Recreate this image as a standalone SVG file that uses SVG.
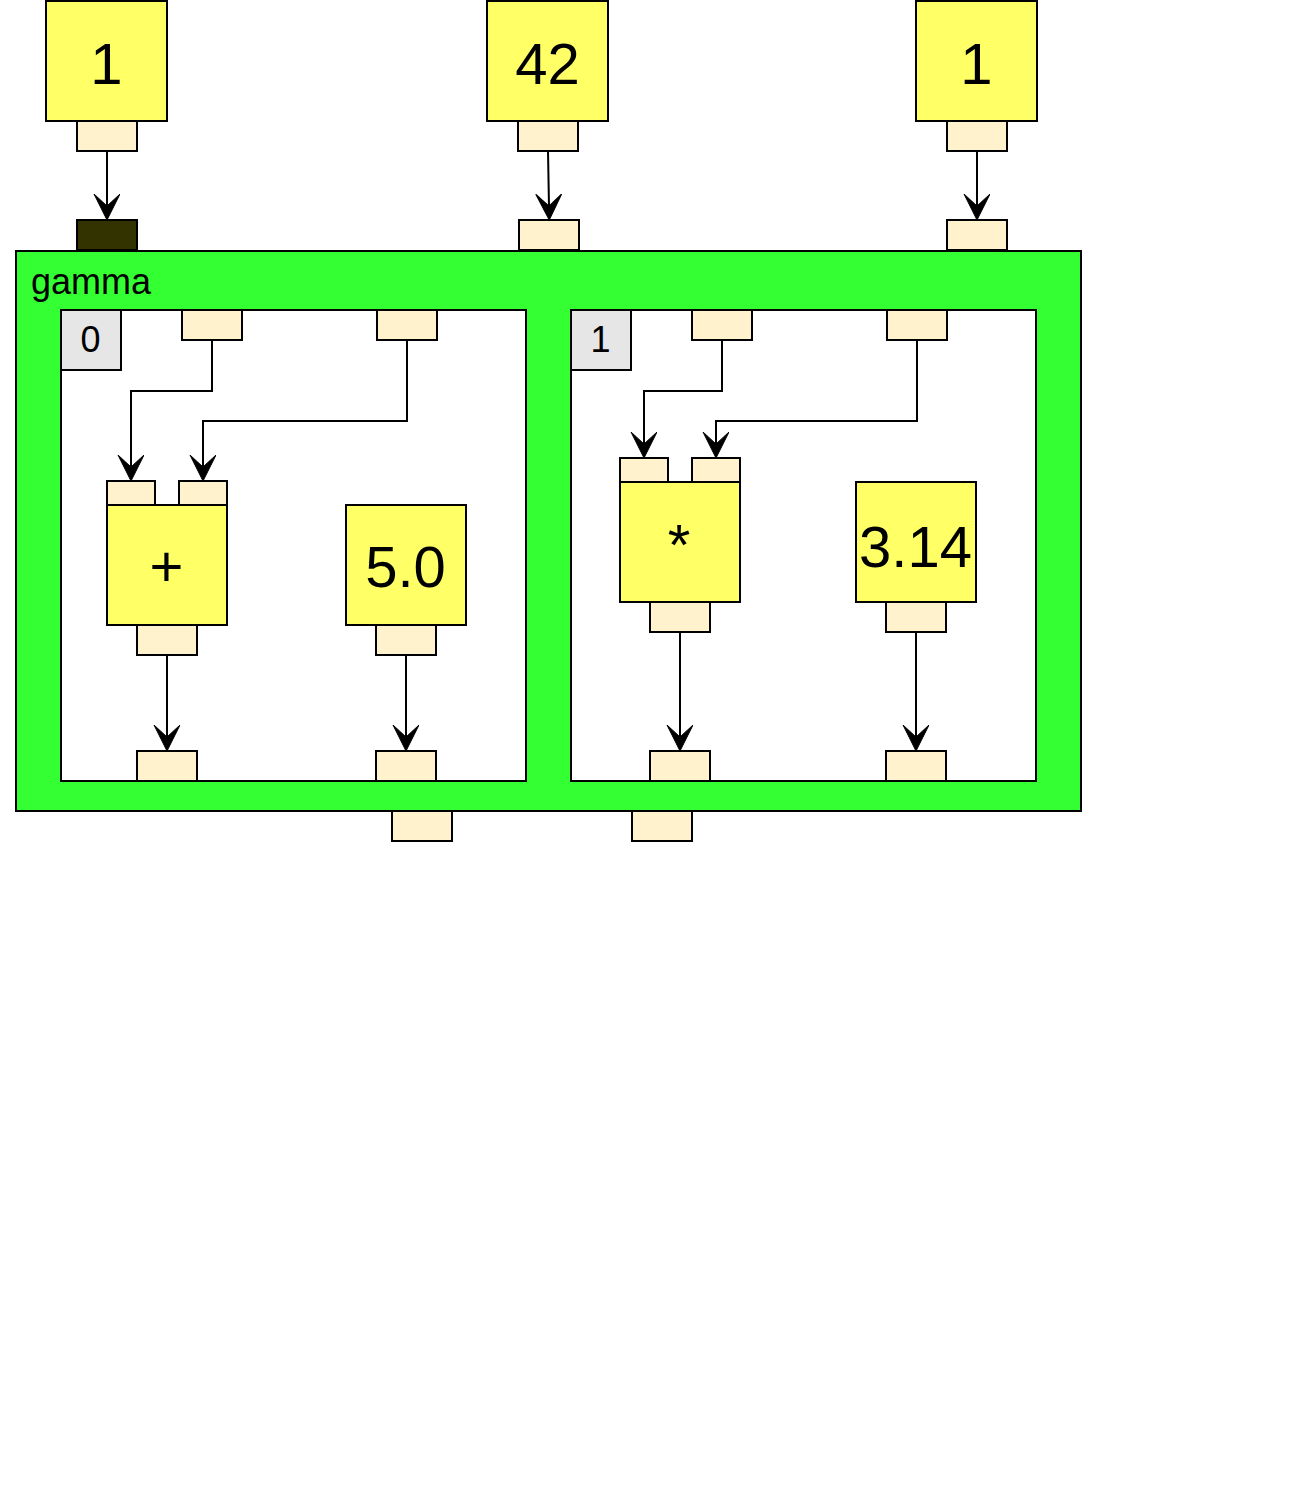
<svg xmlns="http://www.w3.org/2000/svg" width="1293" height="1506" viewBox="0 0 1293 1506">
<style>
  .node{fill:#ffff66;stroke:#000;stroke-width:2}
  .port{fill:#fff2cc;stroke:#000;stroke-width:2}
  .dark{fill:#333300;stroke:#000;stroke-width:2}
  .group{fill:#33ff33;stroke:#000;stroke-width:2}
  .region{fill:#ffffff;stroke:#000;stroke-width:2}
  .lbl{fill:#e6e6e6;stroke:#000;stroke-width:2}
  .big{font-family:"Liberation Sans",Arial,sans-serif;font-size:58px;text-anchor:middle;fill:#000}
  .mid{font-family:"Liberation Sans",Arial,sans-serif;font-size:36px;fill:#000}
  .edge{fill:none;stroke:#000;stroke-width:2;marker-end:url(#arr)}
</style>
<defs>
  <marker id="arr" markerUnits="userSpaceOnUse" markerWidth="28" markerHeight="28" viewBox="0 0 28 28" refX="13" refY="13" orient="auto">
    <path d="M26,13 L0,0 L12,13 L0,26 Z" fill="#000" stroke="#000" stroke-width="1"/>
  </marker>
</defs>
<rect width="1293" height="1506" fill="#ffffff"/>

<g id="const-1-left">
  <rect class="node" x="46" y="1" width="121" height="120"/>
  <text class="big" x="106.5" y="84">1</text>
  <rect class="port" x="77" y="121" width="60" height="30"/>
</g>
<g id="const-42">
  <rect class="node" x="487" y="1" width="121" height="120"/>
  <text class="big" x="547.5" y="84">42</text>
  <rect class="port" x="518" y="121" width="60" height="30"/>
</g>
<g id="const-1-right">
  <rect class="node" x="916" y="1" width="121" height="120"/>
  <text class="big" x="976.5" y="84">1</text>
  <rect class="port" x="947" y="121" width="60" height="30"/>
</g>

<g id="gamma">
  <rect class="group" x="16" y="251" width="1065" height="560"/>
  <text class="mid" x="31" y="294">gamma</text>
  <rect class="dark" x="77" y="220" width="60" height="30"/>
  <rect class="port" x="519" y="220" width="60" height="30"/>
  <rect class="port" x="947" y="220" width="60" height="30"/>
  <rect class="port" x="392" y="811" width="60" height="30"/>
  <rect class="port" x="632" y="811" width="60" height="30"/>
</g>

<g id="region-0">
  <rect class="region" x="61" y="310" width="465" height="471"/>
  <rect class="lbl" x="61" y="310" width="60" height="60"/>
  <text class="mid" x="90.5" y="351.5" text-anchor="middle">0</text>
  <rect class="port" x="182" y="310" width="60" height="30"/>
  <rect class="port" x="377" y="310" width="60" height="30"/>
</g>
<g id="region-1">
  <rect class="region" x="571" y="310" width="465" height="471"/>
  <rect class="lbl" x="571" y="310" width="60" height="60"/>
  <text class="mid" x="600.5" y="351.5" text-anchor="middle">1</text>
  <rect class="port" x="692" y="310" width="60" height="30"/>
  <rect class="port" x="887" y="310" width="60" height="30"/>
</g>

<g id="plus">
  <rect class="port" x="107" y="481" width="48" height="24"/>
  <rect class="port" x="179" y="481" width="48" height="24"/>
  <rect class="node" x="107" y="505" width="120" height="120"/>
  <text class="big" x="166.5" y="586">+</text>
  <rect class="port" x="137" y="625" width="60" height="30"/>
</g>
<g id="const-5-0">
  <rect class="node" x="346" y="505" width="120" height="120"/>
  <text class="big" x="405.5" y="586.5">5.0</text>
  <rect class="port" x="376" y="625" width="60" height="30"/>
</g>
<g id="region-0-outputs">
  <rect class="port" x="137" y="751" width="60" height="30"/>
  <rect class="port" x="376" y="751" width="60" height="30"/>
</g>

<g id="times">
  <rect class="port" x="620" y="458" width="48" height="24"/>
  <rect class="port" x="692" y="458" width="48" height="24"/>
  <rect class="node" x="620" y="482" width="120" height="120"/>
  <text class="big" x="679" y="565">*</text>
  <rect class="port" x="650" y="602" width="60" height="30"/>
</g>
<g id="const-3-14">
  <rect class="node" x="856" y="482" width="120" height="120"/>
  <text class="big" x="915.5" y="566.5">3.14</text>
  <rect class="port" x="886" y="602" width="60" height="30"/>
</g>
<g id="region-1-outputs">
  <rect class="port" x="650" y="751" width="60" height="30"/>
  <rect class="port" x="886" y="751" width="60" height="30"/>
</g>

<g id="connectors">
  <path class="edge" d="M107,151 L107,207"/>
  <path class="edge" d="M548,151 L549,207"/>
  <path class="edge" d="M977,151 L977,207"/>
  <path class="edge" d="M212,340 L212,391 L131,391 L131,468"/>
  <path class="edge" d="M407,340 L407,421 L203,421 L203,468"/>
  <path class="edge" d="M167,655 L167,738"/>
  <path class="edge" d="M406,655 L406,738"/>
  <path class="edge" d="M722,340 L722,391 L644,391 L644,445"/>
  <path class="edge" d="M917,340 L917,421 L716,421 L716,445"/>
  <path class="edge" d="M680,632 L680,738"/>
  <path class="edge" d="M916,632 L916,738"/>
</g>
</svg>
